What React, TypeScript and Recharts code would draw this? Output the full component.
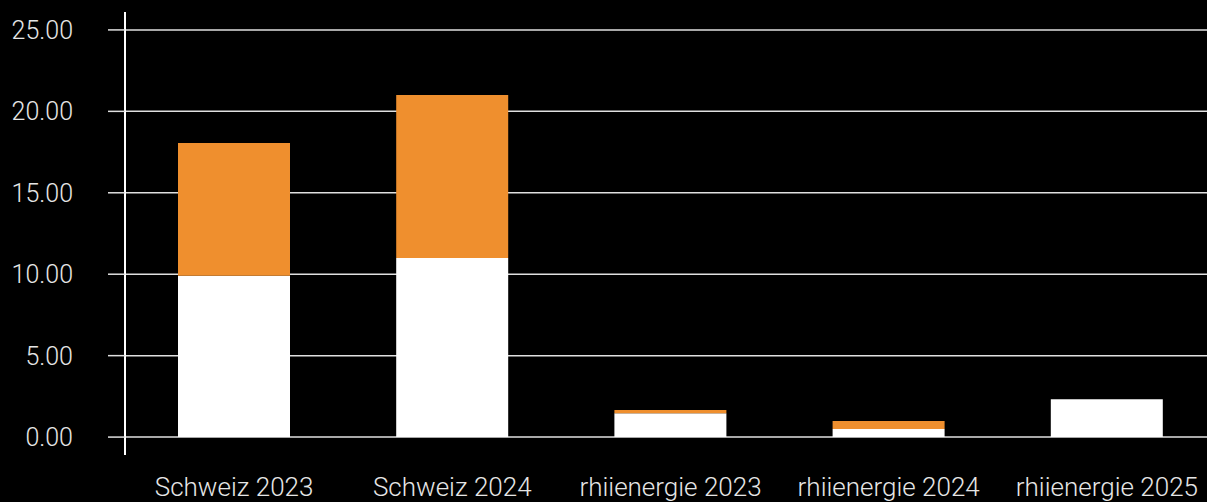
import React from "react";
import { BarChart, Bar, XAxis, YAxis, CartesianGrid } from "recharts";

const categories = ["Schweiz 2023", "Schweiz 2024", "rhiienergie 2023", "rhiienergie 2024", "rhiienergie 2025"];
const baseValues = [9.9, 11.0, 1.47, 0.5, 2.33];
const topValues = [8.15, 10.0, 0.19, 0.48, 0];
const yTicks = [0, 5, 10, 15, 20, 25];

const data = categories.map((name, i) => ({ name, base: baseValues[i], top: topValues[i] }));

const ORANGE = "#EF8F2E";
const TEXT = "#e6e6e6";
const FONT = "Roboto, 'DejaVu Sans', sans-serif";

export default function App() {
  return (
    <div style={{ position: "fixed", left: 0, top: 0, width: 1207, height: 502, background: "#000", overflow: "hidden" }}>
      <BarChart
        width={1216}
        height={502}
        data={data}
        margin={{ top: 12, right: 0, left: 0, bottom: 0 }}
        barCategoryGap={0}
      >
        <CartesianGrid vertical={false} stroke="#e0e0e0" strokeWidth={1.5} syncWithTicks />
        <XAxis
          dataKey="name"
          axisLine={false}
          tickLine={false}
          tickSize={0}
          tickMargin={23}
          height={47}
          interval={0}
          tick={{ fill: TEXT, fontSize: 26, fontFamily: FONT, fontWeight: 300 }}
        />
        <YAxis
          width={125}
          domain={[-1.1, 26.1]}
          ticks={yTicks}
          allowDataOverflow
          tickFormatter={(v: number) => v.toFixed(2)}
          axisLine={{ stroke: "#ffffff", strokeWidth: 2 }}
          tickLine={{ stroke: "#e0e0e0", strokeWidth: 1.5 }}
          tickSize={17}
          tickMargin={35}
          tick={{ fill: TEXT, fontSize: 25, fontFamily: FONT, fontWeight: 300 }}
        />
        <Bar dataKey="base" stackId="a" fill="#ffffff" barSize={112} isAnimationActive={false} />
        <Bar dataKey="top" stackId="a" fill={ORANGE} barSize={112} isAnimationActive={false} />
      </BarChart>
    </div>
  );
}
